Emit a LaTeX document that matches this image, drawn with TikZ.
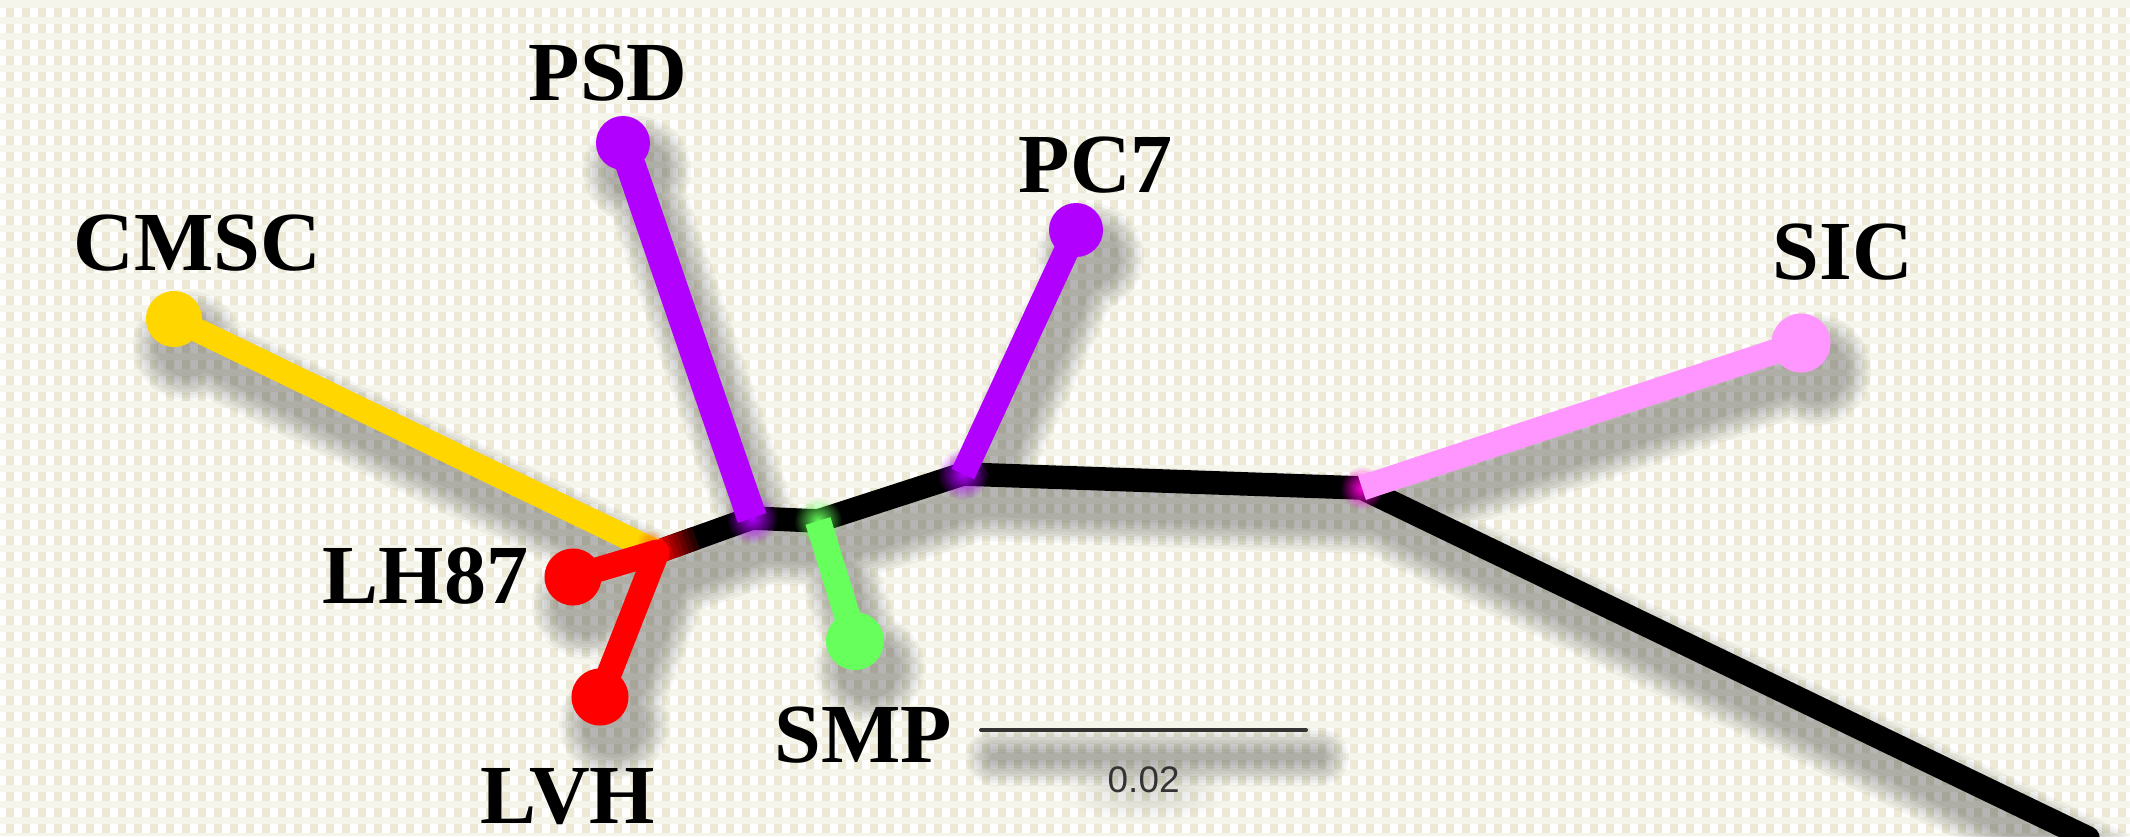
\documentclass[tikz,border=0pt]{standalone}
\usepackage{fontspec}
\setmainfont{Liberation Serif}
\setsansfont{Liberation Sans}
\usetikzlibrary{calc,fadings}

\definecolor{bgmid}{HTML}{F6F5EB}
\definecolor{bgtan}{HTML}{ECEAD6}
\definecolor{cpurple}{HTML}{B200FF}
\definecolor{cyellow}{HTML}{FFD600}
\definecolor{cred}{HTML}{FF0000}
\definecolor{cgreen}{HTML}{66FF5C}
\definecolor{cpink}{HTML}{FF96FF}
\definecolor{cmagenta}{HTML}{FF00DD}
\definecolor{cbar}{HTML}{333333}

\tikzfading[name=softspot, inner color=transparent!0, outer color=transparent!100]

\tikzset{
  trunk/.style={line width=0.235cm, line cap=round, line join=round, black},
  branch/.style={line width=0.25cm, line cap=butt, line join=round},
  tip/.style={circle, inner sep=0pt, minimum size=0.56cm},
  taxon/.style={font=\bfseries\fontsize{23.9}{28}\selectfont, inner sep=0pt, anchor=base west},
  glow/.style={path fading=softspot},
}

\begin{document}
\begin{tikzpicture}[x=0.01cm, y=-0.01cm]
\useasboundingbox (0,0) rectangle (2130,836);

% paper texture
\fill[bgmid] (0,0) rectangle (2130,836);
\begin{scope}
  \clip \foreach \j in {0,...,52} {(0,{\j*16+8}) rectangle (2130,{\j*16+17})};
  \fill[white] (0,0) rectangle (2130,836);
  \fill[bgtan] \foreach \i in {0,...,133} {({\i*16+6},0) rectangle ({\i*16+14},836)};
\end{scope}

% tree points
\coordinate (j1) at (657,552);
\coordinate (j2) at (752,518);
\coordinate (j3) at (818,521);
\coordinate (j4) at (963,474);
\coordinate (j5) at (1362,488);
\coordinate (root) at (2088,838);
\coordinate (psd) at (623,143);
\coordinate (pc7) at (1076,230);
\coordinate (cmsc) at (174,319);
\coordinate (sic) at (1801,343);
\coordinate (lh87) at (573,577);
\coordinate (lvh) at (600,697);
\coordinate (smp) at (855,641);
\coordinate (barL) at (981,730);
\coordinate (barR) at (1306,730);

% soft drop shadow, built up in rings
\foreach \e in {3,6,...,27}{
  \begin{scope}[transform canvas={xshift=0.14cm, yshift=-0.27cm}]
  \begin{scope}[transparency group, opacity=0.036]
    \path (0,0) rectangle (2130,900);
    \draw[line width={0.25cm+2*\e*0.01cm}, line cap=round, line join=round]
      (j1) -- (j2) -- (j3) -- (j4) -- (j5) -- (root)
      (cmsc) -- (j1) (lh87) -- (j1) -- (lvh)
      (psd) -- (j2) (smp) -- (j3) (pc7) -- (j4) (sic) -- (j5);
    \draw[line width={0.04cm+2*\e*0.01cm}, line cap=round] (barL) -- (barR);
    \fill (psd) circle[radius={27+\e}] (pc7) circle[radius={27+\e}]
          (cmsc) circle[radius={28+\e}] (sic) circle[radius={29+\e}]
          (lh87) circle[radius={28+\e}] (lvh) circle[radius={28+\e}]
          (smp) circle[radius={28+\e}];
  \end{scope}
  \end{scope}
}
\fill[black, opacity=0.13, glow] (1146,792) ellipse [x radius=85, y radius=32];

% backbone
\draw[trunk] (j1) -- (j2) -- (j3) -- (j4) -- (j5) -- (root);

% colour bleeding at the inner nodes
\fill[cpurple, glow] (j2) circle[radius=26];
\fill[cgreen, glow] (j3) circle[radius=24];
\fill[cpurple, glow] (j4) circle[radius=26];
\fill[cmagenta, glow] (j5) circle[radius=22];
\foreach \t/\m in {0/100,0.05/88,0.10/76,0.15/64,0.20/52,0.25/40,0.30/28,0.35/16}
  \draw[line width=0.235cm, cred!\m!black] ($(j1)!\t!(j2)$) -- ($(j1)!{\t+0.06}!(j2)$);

% branches
\draw[branch, cyellow, line width=0.24cm] (cmsc) -- (j1);
\fill[orange, glow] (650,543) circle[radius=14];
\draw[branch, cred, line cap=round] (lh87) -- (j1) -- (lvh);
\draw[branch, cpurple, line width=0.30cm] (psd) -- (j2);
\draw[branch, cgreen, line width=0.26cm] (smp) -- (j3);
\draw[branch, cpurple] (pc7) -- (j4);
\draw[branch, cpink] (sic) -- (j5);

% tips
\node[tip, fill=cpurple, minimum size=0.54cm] (psddot) at (psd) {};
\node[tip, fill=cpurple, minimum size=0.54cm] (pc7dot) at (pc7) {};
\node[tip, fill=cyellow] (cmscdot) at (cmsc) {};
\node[tip, fill=cpink, minimum size=0.59cm] (sicdot) at (sic) {};
\node[tip, fill=cred, minimum size=0.57cm] (lh87dot) at (lh87) {};
\node[tip, fill=cred, minimum size=0.57cm] (lvhdot) at (lvh) {};
\node[tip, fill=cgreen, minimum size=0.58cm] (smpdot) at (smp) {};

% taxon names
\node[taxon] (psdlbl) at (528,100) {PSD};
\node[taxon] (cmsclbl) at (73,270) {CMSC};
\node[taxon] (pc7lbl) at (1018,192) {PC7};
\node[taxon] (siclbl) at (1772,279) {SIC};
\node[taxon] (lh87lbl) at (322,603) {LH87};
\node[taxon] (lvhlbl) at (480,823) {LVH};
\node[taxon] (smplbl) at (774,762) {SMP};

% scale bar
\draw[line width=0.04cm, cbar, line cap=round] (barL) -- (barR);
\node[font=\sffamily\fontsize{10.5}{12}\selectfont, text=cbar, inner sep=0pt, anchor=base west] (scalelbl) at (1107,792) {0.02};
\end{tikzpicture}
\end{document}
